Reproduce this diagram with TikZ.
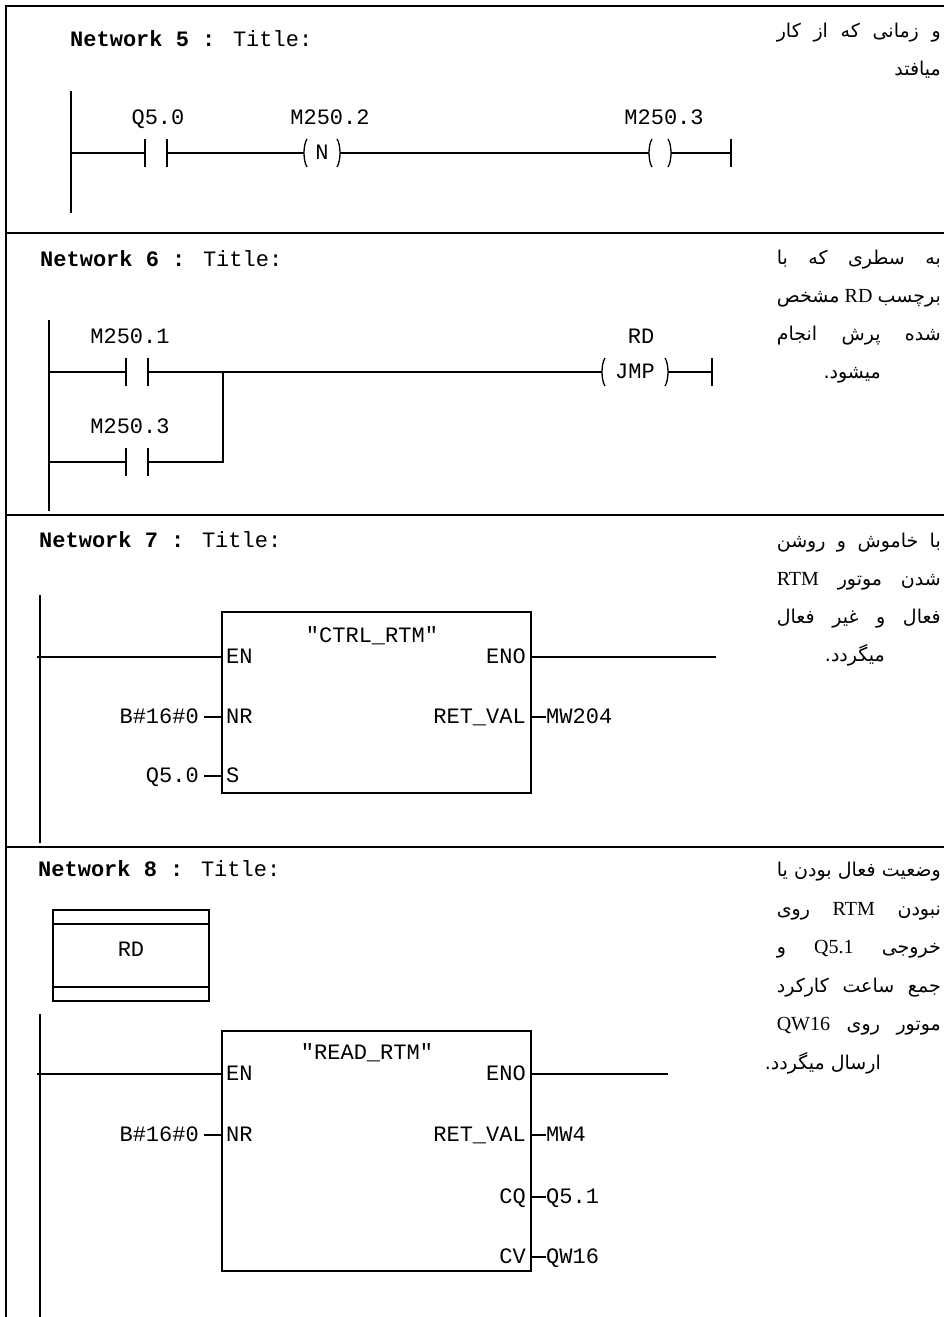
\documentclass[tikz,border=0pt]{standalone}
\usepackage{fontspec}
\usepackage{tikz}
\usetikzlibrary{positioning}
\TeXXeTstate=1
\newfontfamily\ladfont{Liberation Mono}
\newfontfamily\arabicfont[Script=Arabic]{DejaVu Sans}
\newfontfamily\latfont{Liberation Serif}
\newcommand{\fajust}[1]{\hbox to 164pt{\arabicfont\fontsize{19}{22}\selectfont\beginR #1\endR}}
\newcommand{\faline}[1]{\hbox{\arabicfont\fontsize{19}{22}\selectfont\beginR #1\endR}}
\newcommand{\lat}[1]{\beginL{\latfont\fontsize{20}{22}\selectfont #1}\endL{}}

\begin{document}
\begin{tikzpicture}[x=1pt,y=-1pt,
  lad/.style={font=\ladfont\fontsize{22}{24}\selectfont,inner sep=0pt,text height=12.5pt,text depth=0pt},
  title/.style={lad,anchor=west},
  wire/.style={line width=1.3pt},
  rail/.style={line width=1.9pt},
  frame/.style={line width=2.6pt},
  coil/.style={lad,minimum height=28pt,outer sep=0pt},
  fb/.style={draw,line width=1.5pt,inner sep=0pt,outer sep=0pt},
  fa/.style={inner sep=0pt,anchor=base east},
  node distance=14pt]
      \tikzstyle{contact}=[minimum width=22pt,minimum height=28pt,inner sep=0pt,outer sep=0pt]

  \useasboundingbox (0,0) rectangle (944,1317);
  \draw[frame] (952,6) -- (6,6) -- (6,1325);
  \foreach \y in {233,515,847}
    \draw[frame] (6,\y) -- (952,\y);

  % network 5
  \node[title] (t5) at (70,40) {\textbf{Network 5 :} Title:};
  \coordinate (r5t) at (71,91);
  \coordinate (r5b) at (71,213);
  \coordinate (r51) at (71,153);
  \node[contact] (k51) at (156,153) {};
  \node[coil,minimum width=36pt] (c51) at (322,153) {N};
  \node[coil,minimum width=22pt] (c52) at (660,153) {};
  \coordinate (e51) at (731,153);
  \node[lad,above=14pt of k51,xshift=2pt] (l51) {Q5.0};
  \node[lad,above=14pt of c51,xshift=8pt] (l52) {M250.2};
  \node[lad,above=14pt of c52,xshift=4pt] (l53) {M250.3};
  \draw[rail] (r5t) -- (r5b);
  \draw[wire] (r51) -- (k51.west) (k51.east) -- (c51.west) (c51.east) -- (c52.west) (c52.east) -- (e51);

  % network 6
  \node[title] (t6) at (40,260) {\textbf{Network 6 :} Title:};
  \coordinate (r6t) at (49,320);
  \coordinate (r6b) at (49,511);
  \coordinate (r61) at (49,372);
  \coordinate (r62) at (49,462);
  \node[contact] (k61) at (137,372) {};
  \node[contact] (k62) at (137,462) {};
  \coordinate (j61) at (223,372);
  \coordinate (j62) at (223,462);
  \node[coil,minimum width=66pt] (c61) at (635,372) {JMP};
  \coordinate (e61) at (712,372);
  \node[lad,above=14pt of k61,xshift=-7pt] (l61) {M250.1};
  \node[lad,above=14pt of k62,xshift=-7pt] (l62) {M250.3};
  \node[lad,above=14pt of c61,xshift=6pt] (l63) {RD};
  \draw[rail] (r6t) -- (r6b);
  \draw[wire] (r61) -- (k61.west) (k61.east) -- (c61.west) (c61.east) -- (e61);
  \draw[wire] (r62) -- (k62.west) (k62.east) -- (j62) -- (j61);

  \foreach \k in {k51,k61,k62}
    \draw[wire] (\k.north west) -- (\k.south west) (\k.north east) -- (\k.south east);
  \foreach \c in {c51,c52,c61}
    \draw[wire] ([xshift=3pt]\c.north west) .. controls ([xshift=-1pt,yshift=8pt]\c.west) and ([xshift=-1pt,yshift=-8pt]\c.west) .. ([xshift=3pt]\c.south west)
      ([xshift=-3pt]\c.north east) .. controls ([xshift=1pt,yshift=8pt]\c.east) and ([xshift=1pt,yshift=-8pt]\c.east) .. ([xshift=-3pt]\c.south east);
  \foreach \e in {e51,e61}
    \draw[wire] ([yshift=14pt]\e) -- ([yshift=-14pt]\e);

  % network 7
  \node[title] (t7) at (39,541) {\textbf{Network 7 :} Title:};
  \coordinate (r7t) at (40,595);
  \coordinate (r7b) at (40,843);
  \coordinate (r7) at (37,657);
  \coordinate (o7) at (716,657);
  \node[fb,minimum width=309pt,minimum height=181pt] (b7) at (376.5,702.5) {};
  \node[lad] (b7n) at (372,636) {"CTRL\_RTM"};
  \node[lad,anchor=west] (b7en) at (226,657) {EN};
  \node[lad,anchor=east] (b7eno) at (526,657) {ENO};
  \node[lad,anchor=west] (b7nr) at (226,717) {NR};
  \node[lad,anchor=east] (b7ret) at (526,717) {RET\_VAL};
  \node[lad,anchor=west] (b7s) at (226,776) {S};
  \node[lad,anchor=east] (v7nr) at (199,717) {B\#16\#0};
  \node[lad,anchor=east] (v7s) at (199,776) {Q5.0};
  \node[lad,anchor=west] (v7ret) at (546,717) {MW204};
  \draw[rail] (r7t) -- (r7b);
  \draw[wire] (r7) -- (b7.west |- b7en.west);
  \draw[wire] (b7.east |- b7eno.east) -- (o7);
  \draw[wire] ([xshift=5pt]v7nr.east) -- (b7.west |- v7nr.east);
  \draw[wire] ([xshift=5pt]v7s.east) -- (b7.west |- v7s.east);
  \draw[wire] (b7.east |- v7ret.west) -- (v7ret.west);

  % network 8
  \node[title] (t8) at (38,870) {\textbf{Network 8 :} Title:};
  \node[fb,minimum width=156pt,minimum height=91pt] (lb8) at (131,955.5) {};
  \node[lad] (lb8t) at (131,950) {RD};
  \draw[line width=1.5pt] ([yshift=-14pt]lb8.north west) -- ([yshift=-14pt]lb8.north east)
    ([yshift=14pt]lb8.south west) -- ([yshift=14pt]lb8.south east);
  \coordinate (r8t) at (40,1014);
  \coordinate (r8b) at (40,1325);
  \coordinate (r8) at (37,1074);
  \coordinate (o8) at (668,1074);
  \node[fb,minimum width=309pt,minimum height=240pt] (b8) at (376.5,1151) {};
  \node[lad] (b8n) at (367,1053) {"READ\_RTM"};
  \node[lad,anchor=west] (b8en) at (226,1074) {EN};
  \node[lad,anchor=east] (b8eno) at (526,1074) {ENO};
  \node[lad,anchor=west] (b8nr) at (226,1135) {NR};
  \node[lad,anchor=east] (b8ret) at (526,1135) {RET\_VAL};
  \node[lad,anchor=east] (b8cq) at (526,1197) {CQ};
  \node[lad,anchor=east] (b8cv) at (526,1257) {CV};
  \node[lad,anchor=east] (v8nr) at (199,1135) {B\#16\#0};
  \node[lad,anchor=west] (v8ret) at (546,1135) {MW4};
  \node[lad,anchor=west] (v8cq) at (546,1197) {Q5.1};
  \node[lad,anchor=west] (v8cv) at (546,1257) {QW16};
  \draw[rail] (r8t) -- (r8b);
  \draw[wire] (r8) -- (b8.west |- b8en.west);
  \draw[wire] (b8.east |- b8eno.east) -- (o8);
  \draw[wire] ([xshift=5pt]v8nr.east) -- (b8.west |- v8nr.east);
  \draw[wire] (b8.east |- v8ret.west) -- (v8ret.west);
  \draw[wire] (b8.east |- v8cq.west) -- (v8cq.west);
  \draw[wire] (b8.east |- v8cv.west) -- (v8cv.west);

  % notes
  \node[fa] (p5a) at (941,37) {\fajust{و\hfill زمانی\hfill که\hfill از\hfill کار}};
  \node[fa] (p5b) at (941,75) {\faline{میافتد}};
  \node[fa] (p6a) at (941,264) {\fajust{به\hfill سطری\hfill که\hfill با}};
  \node[fa] (p6b) at (941,302) {\fajust{برچسب\hfill \lat{RD}\hfill مشخص}};
  \node[fa] (p6c) at (941,340) {\fajust{شده\hfill پرش\hfill انجام}};
  \node[fa] (p6d) at (881,378) {\faline{میشود\kern0pt.}};
  \node[fa] (p7a) at (941,547) {\fajust{با\hfill خاموش\hfill و\hfill روشن}};
  \node[fa] (p7b) at (941,585) {\fajust{شدن\hfill موتور\hfill \lat{RTM}}};
  \node[fa] (p7c) at (941,623) {\fajust{فعال\hfill و\hfill غیر\hfill فعال}};
  \node[fa] (p7d) at (885,661) {\faline{میگردد\kern0pt.}};
  \node[fa] (p8a) at (941,876) {\fajust{وضعیت\hfill فعال\hfill بودن\hfill یا}};
  \node[fa] (p8b) at (941,915) {\fajust{نبودن\hfill \lat{RTM}\hfill روی}};
  \node[fa] (p8c) at (941,953) {\fajust{خروجی\hfill \lat{Q5.1}\hfill و}};
  \node[fa] (p8d) at (941,992) {\fajust{جمع\hfill ساعت\hfill کارکرد}};
  \node[fa] (p8e) at (941,1030) {\fajust{موتور\hfill روی\hfill \lat{QW16}}};
  \node[fa] (p8f) at (881,1069) {\faline{ارسال میگردد\kern0pt.}};

\end{tikzpicture}
\end{document}
